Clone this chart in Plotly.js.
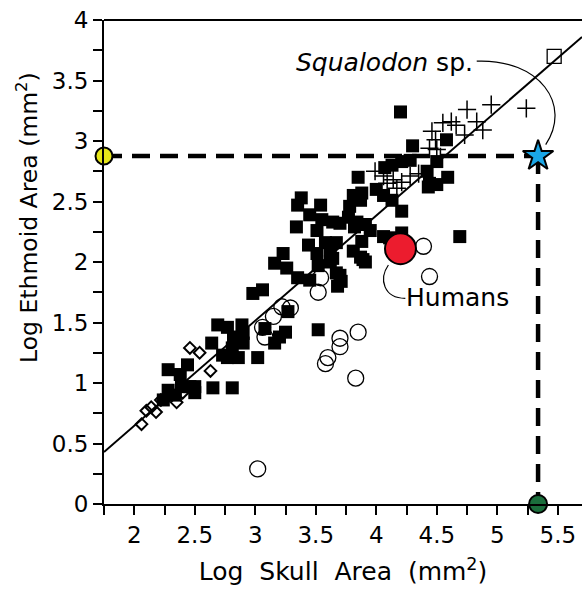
<!DOCTYPE html>
<html>
<head>
<meta charset="utf-8">
<script src="https://cdn.plot.ly/plotly-3.0.1.min.js"></script>
<style>html,body{margin:0;padding:0;background:#fff;}#chart{width:582px;height:593px;}</style>
</head>
<body>
<div id="chart"></div>
<script>
// Filled squares
const squareX = [2.24,2.28,2.34,2.39,2.46,2.50,2.50,2.28,2.38,2.44,2.65,2.81,
  2.64,2.73,2.77,2.86,3.02,2.81,2.82,2.90,2.90,2.69,2.77,2.89,
  3.08,3.20,3.25,3.16,3.52,
  2.98,3.06,3.23,3.16,3.26,3.35,3.27,
  3.34,3.35,3.38,3.54,3.45,3.55,3.51,3.44,3.58,3.62,3.51,3.52,3.62,3.45,3.70,3.68,3.64,3.78,3.81,3.87,3.84,3.88,3.87,3.91,
  3.85,3.88,4.00,4.06,4.13,4.21,3.77,3.70,3.82,3.91,3.95,4.06,3.81,3.89,3.67,3.64,3.67,3.71,
  4.07,4.13,4.21,4.28,4.42,4.44,4.59,4.50,4.30,4.58,4.20,4.43,4.50,4.69,4.11,4.21];
const squareY = [0.86,0.94,0.90,0.97,0.97,0.92,0.97,1.11,1.07,1.15,0.96,0.96,
  1.33,1.23,1.21,1.21,1.21,1.29,1.38,1.33,1.41,1.48,1.46,1.48,
  1.45,1.38,1.42,1.33,1.44,
  1.74,1.77,2.07,1.99,1.95,1.87,1.59,
  2.29,2.47,2.53,2.47,2.39,2.35,2.26,2.14,2.16,2.10,2.07,1.97,2.00,1.85,1.89,1.80,2.33,2.46,2.55,2.51,2.33,2.17,2.04,2.00,
  2.70,2.57,2.60,2.55,2.51,2.42,2.37,2.32,2.29,2.31,2.26,2.21,2.09,2.02,2.16,2.03,1.91,1.84,
  2.78,2.80,2.83,2.84,2.75,2.65,2.70,2.83,2.96,3.01,3.24,2.62,2.64,2.21,2.20,2.24];
// Crosses
const crossX = [4.75,4.95,5.24,4.55,4.62,4.66,4.83,4.88,4.73,4.46,4.49,4.50,4.44,4.53,3.99,4.06,4.14,4.21,4.28,4.09,4.17,4.35];
const crossY = [3.26,3.30,3.27,3.15,3.16,3.13,3.16,3.09,3.05,3.08,3.01,2.93,2.94,2.87,2.75,2.71,2.68,2.66,2.71,2.65,2.61,2.73];
// Open circles
const circleX = [3.02,3.83,3.58,3.60,3.70,3.70,3.85,3.08,3.06,3.15,3.22,3.29,3.52,3.54,4.39,4.44];
const circleY = [0.29,1.04,1.16,1.21,1.30,1.37,1.42,1.38,1.46,1.55,1.63,1.62,1.75,1.87,2.13,1.88];
// Open diamonds
const diamondX = [2.06,2.10,2.14,2.18,2.22,2.27,2.35,2.40,2.46,2.54,2.63];
const diamondY = [0.66,0.77,0.80,0.76,0.86,0.88,0.84,0.92,1.29,1.25,1.10];
// Humans, Squalodon
const humanX = [4.20], humanY = [2.11];
const squalodonX = [5.47], squalodonY = [3.70];
// Prediction: star, read-offs on axes
const starX = [5.337], starY = [2.876];
const yReadX = [1.75], yReadY = [2.876];
const xReadX = [5.337], xReadY = [0];
// Regression line endpoints
const fitX = [1.75, 5.70], fitY = [0.43, 3.86];

const F = 'DejaVu Sans, Liberation Sans, Arial, sans-serif';
const traces = [
  {x: fitX, y: fitY, mode: 'lines', line: {color: '#000', width: 2}},
  {x: [yReadX[0], starX[0]], y: [yReadY[0], starY[0]], mode: 'lines', line: {color: '#000', width: 4.5, dash: '18px,10px'}},
  {x: [starX[0], xReadX[0]], y: [starY[0], xReadY[0]], mode: 'lines', line: {color: '#000', width: 4.5, dash: '18px,10px'}},
  {x: squareX, y: squareY, mode: 'markers', marker: {symbol: 'square', size: 13, color: '#000'}},
  {x: crossX, y: crossY, mode: 'markers', marker: {symbol: 'cross-thin-open', size: 13, color: '#000', line: {width: 1.5, color: '#000'}}},
  {x: circleX, y: circleY, mode: 'markers', marker: {symbol: 'circle-open', size: 16, color: '#000', line: {width: 1.3, color: '#000'}}},
  {x: diamondX, y: diamondY, mode: 'markers', marker: {symbol: 'diamond-open', size: 9, color: '#000', line: {width: 2, color: '#000'}}},
  {x: squalodonX, y: squalodonY, mode: 'markers', marker: {symbol: 'square-open', size: 14, color: '#000', line: {width: 1.3, color: '#000'}}},
  {x: humanX, y: humanY, mode: 'markers', marker: {symbol: 'circle', size: 31, color: '#ec1c2e', line: {width: 2, color: '#000'}}},
  {x: yReadX, y: yReadY, mode: 'markers', cliponaxis: false, marker: {symbol: 'circle', size: 17, color: '#e6e619', line: {width: 2, color: '#000'}}},
  {x: xReadX, y: xReadY, mode: 'markers', cliponaxis: false, marker: {symbol: 'circle', size: 18, color: '#1b6e3c', line: {width: 2, color: '#000'}}},
  {x: starX, y: starY, mode: 'markers', cliponaxis: false, marker: {symbol: 'star', size: 23, color: '#1aa6e6', line: {width: 2, color: '#000'}}}
];

const layout = {
  width: 582, height: 593,
  margin: {l: 104, r: 0, t: 20, b: 89},
  paper_bgcolor: '#fff', plot_bgcolor: '#fff',
  showlegend: false,
  font: {family: F, color: '#000', size: 23},
  xaxis: {
    range: [1.75, 5.70], tick0: 0, dtick: 0.5, ticks: 'outside', ticklen: 9, tickwidth: 2, tickcolor: '#000',
    minor: {dtick: 0.25, tick0: 0, ticks: 'outside', ticklen: 9, tickwidth: 2, tickcolor: '#000'},
    showline: true, linewidth: 2, linecolor: '#000', showgrid: false, zeroline: false,
    tickfont: {family: F, size: 23, color: '#000'},
    title: {text: 'Log\u00a0\u00a0Skull\u00a0\u00a0Area\u00a0\u00a0(mm<sup>2</sup>)', font: {family: F, size: 25, color: '#000'}, standoff: 16}
  },
  yaxis: {
    range: [0, 4], tick0: 0, dtick: 0.5, ticks: 'outside', ticklen: 9, tickwidth: 2, tickcolor: '#000',
    minor: {dtick: 0.25, tick0: 0, ticks: 'outside', ticklen: 9, tickwidth: 2, tickcolor: '#000'},
    showline: true, linewidth: 2, linecolor: '#000', showgrid: false, zeroline: false,
    tickfont: {family: F, size: 23, color: '#000'}
  },
  shapes: [
    {type: 'line', xref: 'paper', yref: 'paper', x0: 0, x1: 1, y0: 1, y1: 1, line: {color: '#000', width: 2}},
    {type: 'path', xref: 'x', yref: 'y', path: 'M 4.83,3.66 C 5.35,3.68 5.62,3.3 5.40,2.97', line: {color: '#000', width: 1.2}},
    {type: 'path', xref: 'x', yref: 'y', path: 'M 4.10,1.975 C 4.02,1.86 4.06,1.70 4.24,1.70', line: {color: '#000', width: 1.2}}
  ],
  annotations: [
    {x: 4.07, y: 3.65, xref: 'x', yref: 'y', text: '<i>Squalodon</i> sp.', showarrow: false, font: {family: F, size: 25, color: '#000'}},
    {x: 4.675, y: 1.71, xref: 'x', yref: 'y', text: 'Humans', showarrow: false, font: {family: F, size: 25, color: '#000'}},
    {x: -0.159, y: 0.593, xref: 'paper', yref: 'paper', xanchor: 'center', yanchor: 'middle', textangle: -90,
     text: 'Log Ethmoid Area (mm<sup>2</sup>)', showarrow: false, font: {family: F, size: 23.5, color: '#000'}}
  ]
};

Plotly.newPlot('chart', traces, layout, {staticPlot: true, displayModeBar: false});
</script>
</body>
</html>
